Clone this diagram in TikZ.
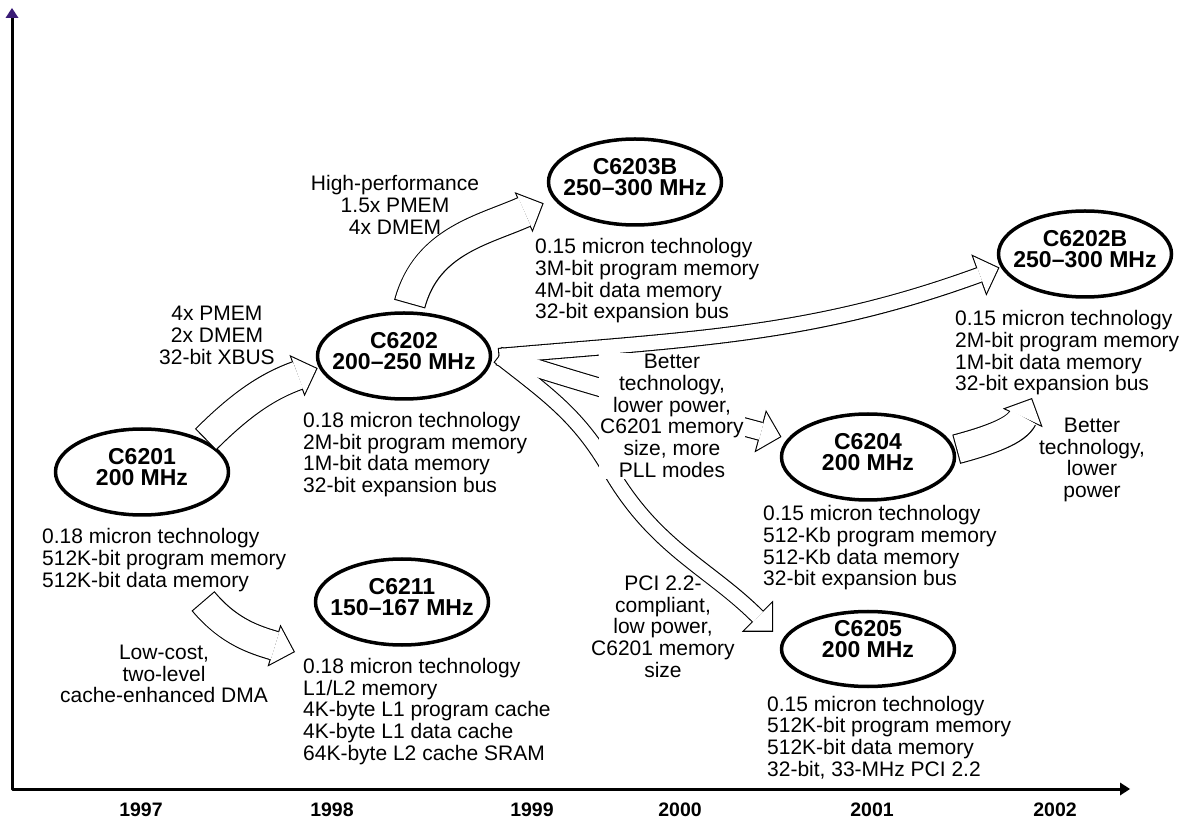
\documentclass[tikz,border=0pt]{standalone}
\usepackage{fontspec}
\setmainfont{Liberation Sans}
\usetikzlibrary{arrows.meta,shapes.geometric}
\definecolor{axistip}{RGB}{58,28,118}
\begin{document}
\begin{tikzpicture}[x=1pt, y=1pt, line join=round]

	\tikzset{chip/.style={ellipse, draw, fill=white, line width=3.5pt, minimum width=173pt, minimum height=86pt, inner xsep=-20pt, inner ysep=-5pt, outer sep=3pt, align=center, text depth=10pt, font=\fontsize{23pt}{20.5pt}\selectfont\bfseries},
		spec/.style={anchor=west, align=left, inner sep=0pt, font=\fontsize{21pt}{21.7pt}\selectfont},
		note/.style={align=center, inner sep=0pt, font=\fontsize{21pt}{21.7pt}\selectfont},
		year/.style={font=\fontsize{19.5pt}{20pt}\selectfont\bfseries},
		axis/.style={line width=3pt},
		outer/.style={draw=black, line width=#1+2.2pt, -{Triangle[length=22pt, width=44pt, line width=0pt]}},
		inner/.style={draw=white, line width=#1, shorten <=1.1pt, shorten >=1.56pt, -{Triangle[length=19.34pt, width=38.68pt, line width=0pt]}}}

	\useasboundingbox (0,0) rectangle (1189,820);

	\coordinate (o) at (12,31);
	\draw[axis, {Triangle[length=10pt, width=13pt, line width=0pt, color=axistip]}-{Triangle[length=10pt, width=13pt, line width=0pt]}] (12,812) coordinate (ytip) -- (o) -- (1130,31) coordinate (xtip);
	\foreach \x/\yr in {141/1997,332/1998,532/1999,680/2000,872/2001,1055/2002}
	\node[year] (y\yr) at (\x,10) {\yr};

	\node[chip] (c6201) at (142,348) {C6201\\200 MHz};
	\node[chip] (c6202) at (404,464) {C6202\\200--250 MHz};
	\node[chip] (c6203b) at (635,638) {C6203B\\250--300 MHz};
	\node[chip] (c6202b) at (1085,566) {C6202B\\250--300 MHz};
	\node[chip] (c6204) at (868,363) {C6204\\200 MHz};
	\node[chip, minimum height=75pt, text depth=20pt] (c6205) at (868,171) {C6205\\200 MHz};
	\node[chip] (c6211) at (402,218) {C6211\\150--167 MHz};

	\node[spec] (s6201) at (42,260) {0.18 micron technology\\512K-bit program memory\\512K-bit data memory};
	\node[spec] (s6202) at (303,365.5) {0.18 micron technology\\2M-bit program memory\\1M-bit data memory\\32-bit expansion bus};
	\node[spec] (s6203b) at (535,539) {0.15 micron technology\\3M-bit program memory\\4M-bit data memory\\32-bit expansion bus};
	\node[spec] (s6202b) at (955,467) {0.15 micron technology\\2M-bit program memory\\1M-bit data memory\\32-bit expansion bus};
	\node[spec] (s6204) at (763,272) {0.15 micron technology\\512-Kb program memory\\512-Kb data memory\\32-bit expansion bus};
	\node[spec] (s6205) at (767,82.5) {0.15 micron technology\\512K-bit program memory\\512K-bit data memory\\32-bit, 33-MHz PCI 2.2};
	\node[spec] (s6211) at (303,108.5) {0.18 micron technology\\L1/L2 memory\\4K-byte L1 program cache\\4K-byte L1 data cache\\64K-byte L2 cache SRAM};

	\node[note] (xbus) at (217,484.5) {4x PMEM\\2x DMEM\\32-bit XBUS};
	\node[note] (hiperf) at (395,615) {High-performance\\1.5x PMEM\\4x DMEM};
	\node[note] (lowcost) at (164,146) {Low-cost,\\two-level\\cache-enhanced DMA};
	\node[note] (pci) at (663,193.5) {PCI 2.2-\\compliant,\\low power,\\C6201 memory\\size};
	\node[note] (lowpower) at (1092,360) {Better\\technology,\\lower\\power};

	\coordinate (fan) at ([xshift=5pt]c6202.east);
	\coordinate (pcibend) at (610,350);
	\coordinate (lowtail) at (203,219);
	\coordinate (lowtip) at (295,168);
	\coordinate (bettertip) at (1032,422);

	\foreach \pass in {outer,inner}{
		\draw[\pass=28pt] (c6201.27) to[out=45,in=200] (c6202.188);
		\draw[\pass=30pt] ([yshift=6pt]c6202.83) to[out=75,in=204] ([xshift=-12pt]c6203b.195);
		\draw[\pass=14pt] (fan) to[out=5,in=200] (c6202b.189);
		\draw[\pass=17pt] (fan) to[out=-18,in=165] ([xshift=-6pt]c6204.166);
		\draw[\pass=14pt] (fan) to[out=-38,in=120] (pcibend) to[out=-60,in=135] ([xshift=-14pt]c6205.168);
		\draw[\pass=28pt] (lowtail) to[out=-50,in=163] (lowtip);
		\draw[\pass=28pt] (c6204.5) to[out=15,in=245] (bettertip);
	}

	\node[note, fill=white, inner sep=1pt] (better) at (672,404) {Better\\technology,\\lower power,\\C6201 memory\\size, more\\PLL modes};
\end{tikzpicture}
\end{document}
